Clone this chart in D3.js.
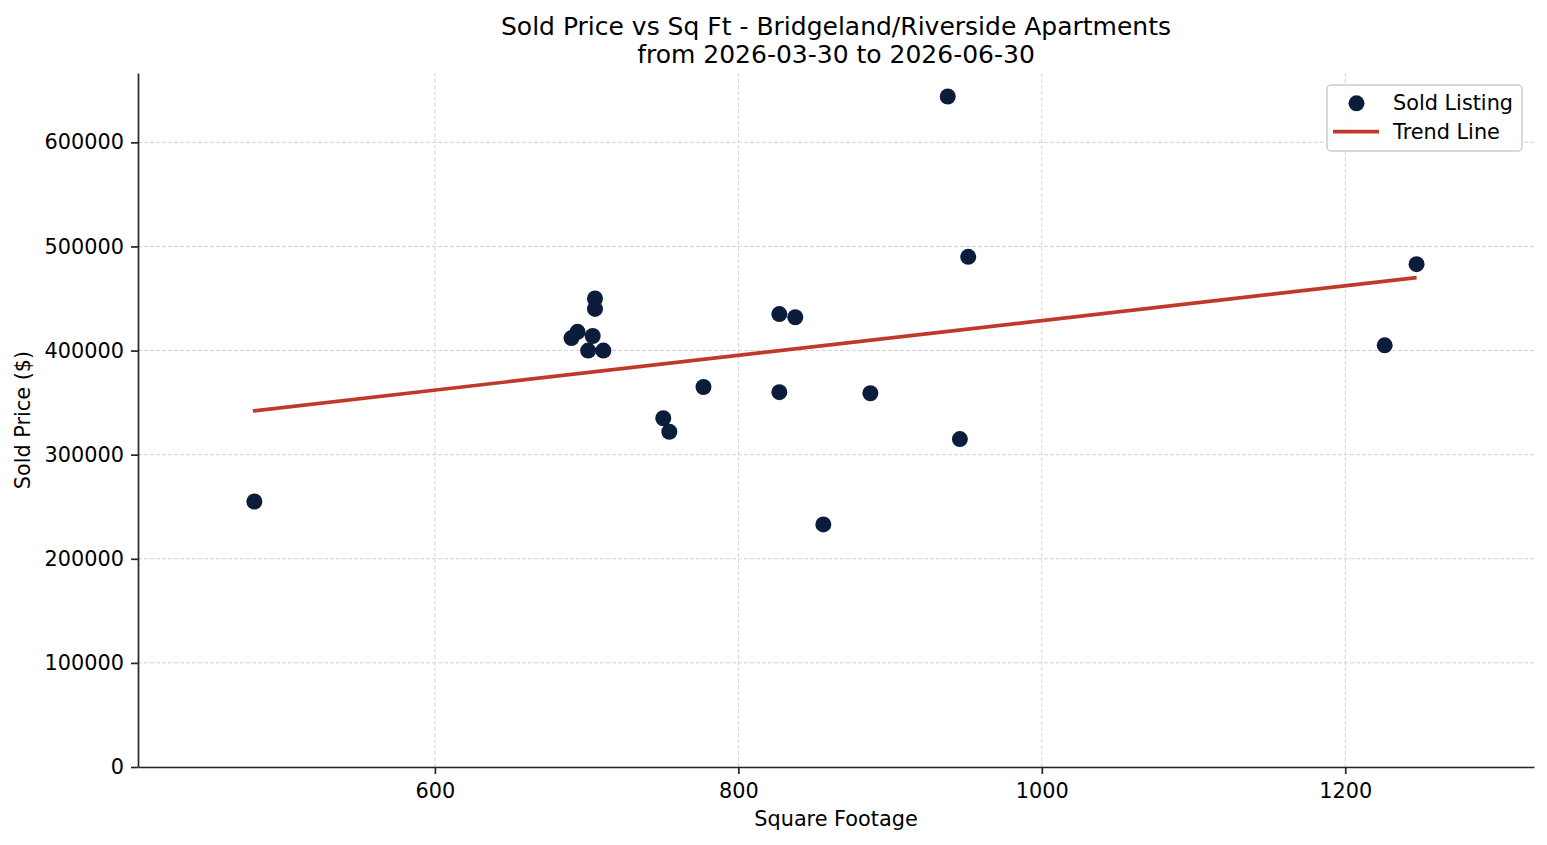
<!DOCTYPE html>
<html>
<head>
<meta charset="utf-8">
<script src="https://cdn.jsdelivr.net/npm/d3@7"></script>
<style>
  html, body { margin: 0; padding: 0; background: #ffffff; }
  svg { display: block; font-family: "DejaVu Sans", sans-serif; }
</style>
</head>
<body>
<svg id="chart" width="1547" height="845"></svg>
<script>
// ---- data ----
const sqft  = [481, 690, 694, 701, 704, 705.5, 705.5, 711, 750.5, 754.5, 777, 827, 837.5, 827, 856, 887, 938, 946, 951.5, 1226, 1247];
const price = [255000, 412000, 418000, 400000, 414000, 450000, 440000, 400000, 335000, 322000, 365000, 435000, 432000, 360000, 233000, 359000, 644000, 315000, 490000, 405000, 483000];
const trendX = [480, 1247];
const trendY = [342000, 470000];
const xTicks = [600, 800, 1000, 1200];
const yTicks = [0, 100000, 200000, 300000, 400000, 500000, 600000];
const titleLines = ["Sold Price vs Sq Ft - Bridgeland/Riverside Apartments", "from 2026-03-30 to 2026-06-30"];
const legendLabels = ["Sold Listing", "Trend Line"];

// ---- layout ----
const svg = d3.select("#chart");
const L = 138, R = 1534, T = 73, B = 767;
const x = d3.scaleLinear().domain([404.3, 1324.4]).range([L, R]);
const y = d3.scaleLinear().domain([0, 666600]).range([B, T]);
const dotColor = "#0b1d3a";
const trendColor = "#c0392b";
const axisColor = "#262626";
const fontSize = 20.8;

// grid
const grid = svg.append("g");
grid.selectAll("line.gx").data(xTicks).join("line")
  .attr("x1", d => x(d)).attr("x2", d => x(d)).attr("y1", T).attr("y2", B)
  .attr("stroke", "#d4d4d4").attr("stroke-width", 1).attr("stroke-dasharray", "4,2");
grid.selectAll("line.gy").data(yTicks).join("line")
  .attr("x1", L).attr("x2", R).attr("y1", d => y(d)).attr("y2", d => y(d))
  .attr("stroke", "#d4d4d4").attr("stroke-width", 1).attr("stroke-dasharray", "4,2");

// axes
const xAxis = svg.append("g").attr("transform", `translate(0,${B})`)
  .call(d3.axisBottom(x).tickValues(xTicks).tickFormat(d3.format("d")).tickSize(7).tickPadding(9).tickSizeOuter(0));
const yAxis = svg.append("g").attr("transform", `translate(${L},0)`)
  .call(d3.axisLeft(y).tickValues(yTicks).tickFormat(d3.format("d")).tickSize(7).tickPadding(7).tickSizeOuter(0));
[xAxis, yAxis].forEach(a => {
  a.select(".domain").attr("stroke", axisColor).attr("stroke-width", 1.7);
  a.selectAll(".tick line").attr("stroke", axisColor).attr("stroke-width", 1.7);
  a.selectAll(".tick text").attr("fill", "#000").style("font-size", fontSize + "px")
    .style("font-family", "'DejaVu Sans', sans-serif");
});

// trend line
svg.append("line")
  .attr("x1", x(trendX[0])).attr("y1", y(trendY[0]))
  .attr("x2", x(trendX[1])).attr("y2", y(trendY[1]))
  .attr("stroke", trendColor).attr("stroke-width", 3.7);

// points
svg.append("g").selectAll("circle").data(sqft.map((d, i) => [d, price[i]])).join("circle")
  .attr("cx", d => x(d[0])).attr("cy", d => y(d[1])).attr("r", 8)
  .attr("fill", dotColor);

// title
svg.append("g").selectAll("text").data(titleLines).join("text")
  .attr("x", (L + R) / 2).attr("y", (d, i) => 35 + i * 28)
  .attr("text-anchor", "middle").style("font-size", "25px").attr("fill", "#000")
  .text(d => d);

// axis labels
svg.append("text").attr("x", (L + R) / 2).attr("y", 826).attr("text-anchor", "middle")
  .style("font-size", fontSize + "px").text("Square Footage");
svg.append("text").attr("transform", `translate(30,${(T + B) / 2}) rotate(-90)`)
  .attr("text-anchor", "middle").style("font-size", fontSize + "px").text("Sold Price ($)");

// legend
const lg = svg.append("g");
lg.append("rect").attr("x", 1327).attr("y", 85).attr("width", 195).attr("height", 66)
  .attr("rx", 4).attr("fill", "rgba(255,255,255,0.85)").attr("stroke", "#cccccc").attr("stroke-width", 1.5);
lg.append("circle").attr("cx", 1356.5).attr("cy", 103.3).attr("r", 8).attr("fill", dotColor);
lg.append("line").attr("x1", 1333).attr("x2", 1379).attr("y1", 131.7).attr("y2", 131.7)
  .attr("stroke", trendColor).attr("stroke-width", 3.7);
lg.selectAll("text").data(legendLabels).join("text")
  .attr("x", 1393).attr("y", (d, i) => 102.5 + i * 29).attr("dy", "0.35em")
  .style("font-size", fontSize + "px").attr("fill", "#000").text(d => d);
</script>
</body>
</html>
